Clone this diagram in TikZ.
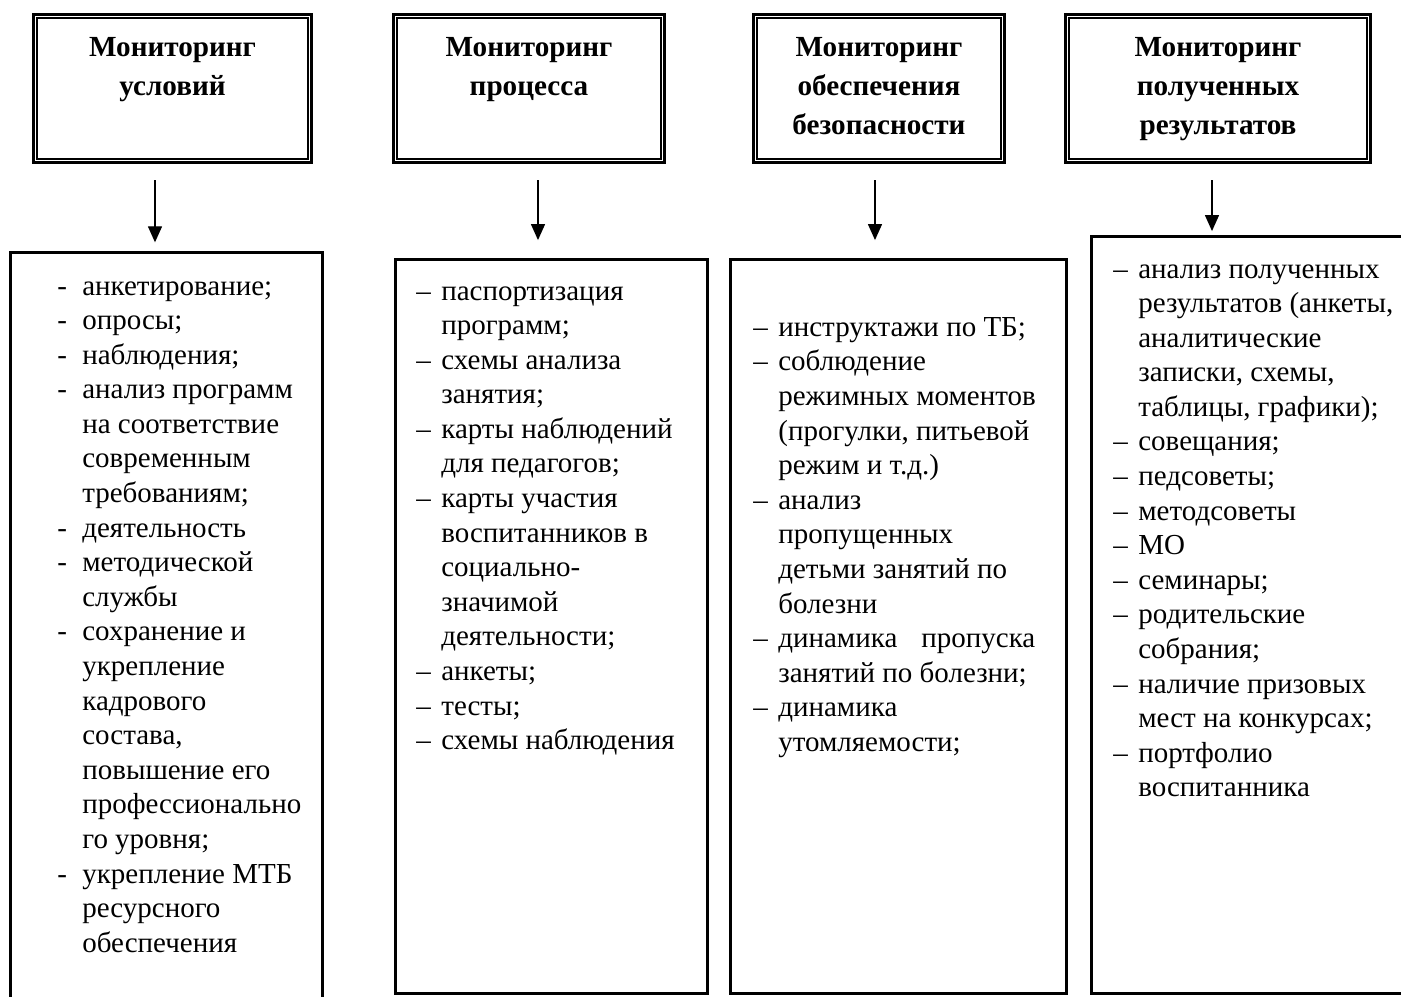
\documentclass[tikz,border=0pt]{standalone}
\usepackage{fontspec}
\setmainfont{Liberation Serif}
\usetikzlibrary{arrows.meta,positioning}
\newcommand{\punkt}[1]{\makebox[0.5cm][l]{#1}}
\newcommand{\einr}{\hspace*{0.5cm}}

\begin{document}
\begin{tikzpicture}[x=0.02cm,y=-0.02cm,
    kopf/.style={draw,line width=1.5pt,inner sep=0pt,outer sep=0pt,minimum height=2.968cm},
    kopftext/.style={inner sep=0pt,align=center,font=\bfseries\fontsize{16.6pt}{22.2pt}\selectfont},
    innen/.style={line width=0.9pt},
    liste/.style={draw,line width=1.7pt,inner sep=0pt,outer sep=0pt},
    eintrag/.style={anchor=north west,inner sep=0pt,align=left,
      font=\fontsize{16.5pt}{19.69pt}\selectfont,execute at begin node=\strut},
    pfeil/.style={-{Triangle[length=0.32cm,width=0.28cm]},line width=0.75pt}]
    		\useasboundingbox (0,0) rectangle (1401,997);
    		\clip (0,0) rectangle (1401,997);
    		% Kopfkaesten:
    		\node[kopf,minimum width=5.568cm] (t1) at (172.5,88.5) {};
    		\node[kopf,minimum width=5.428cm] (t2) at (529,88.5) {};
    		\node[kopf,minimum width=5.028cm] (t3) at (879,88.5) {};
    		\node[kopf,minimum width=6.108cm] (t4) at (1218,88.5) {};
    		\foreach \k in {t1,t2,t3,t4}
    		  \draw[innen] ([shift={(0.07cm,-0.07cm)}]\k.north west) rectangle ([shift={(-0.07cm,0.07cm)}]\k.south east);
    		\node[kopftext,below=0.45cm of t1.north] (k1) {Мониторинг\\условий};
    		\node[kopftext,below=0.45cm of t2.north] (k2) {Мониторинг\\процесса};
    		\node[kopftext,below=0.45cm of t3.north] (k3) {Мониторинг\\обеспечения\\безопасности};
    		\node[kopftext,below=0.45cm of t4.north] (k4) {Мониторинг\\полученных\\результатов};
    		
    		% Listenkaesten:
    		\node[liste,minimum width=6.24cm,minimum height=15.35cm] (l1) at (166.5,636) {};
    		\node[liste,minimum width=6.24cm,minimum height=14.68cm] (l2) at (551.5,626.5) {};
    		\node[liste,minimum width=6.72cm,minimum height=14.68cm] (l3) at (898.5,626.5) {};
    		\node[liste,minimum width=6.77cm,minimum height=15.14cm] (l4) at (1260.75,615) {};
    		
    		% Pfeile:
    		\coordinate (p1) at (155,180);
    		\coordinate (p2) at (538,180);
    		\coordinate (p3) at (875,180);
    		\coordinate (p4) at (1212,180);
    		\draw[pfeil,shorten <=0.35cm,shorten >=0.2cm] (t1.south -| p1) -- (l1.north -| p1);
    		\draw[pfeil,shorten <=0.35cm,shorten >=0.39cm] (t2.south -| p2) -- (l2.north -| p2);
    		\draw[pfeil,shorten <=0.35cm,shorten >=0.39cm] (t3.south -| p3) -- (l3.north -| p3);
    		\draw[pfeil,shorten <=0.35cm,shorten >=0.11cm] (t4.south -| p4) -- (l4.north -| p4);
    		
    		% Texte:
    		\node[eintrag] (e1) at (57,281) {\punkt{-}анкетирование;\\
    		  \punkt{-}опросы;\\
    		  \punkt{-}наблюдения;\\
    		  \punkt{-}анализ программ\\
    		  \einr на соответствие\\
    		  \einr современным\\
    		  \einr требованиям;\\
    		  \punkt{-}деятельность\\
    		  \punkt{-}методической\\
    		  \einr службы\\
    		  \punkt{-}сохранение и\\
    		  \einr укрепление\\
    		  \einr кадрового\\
    		  \einr состава,\\
    		  \einr повышение его\\
    		  \einr профессионально\\
    		  \einr го уровня;\\
    		  \punkt{-}укрепление МТБ\\
    		  \einr ресурсного\\
    		  \einr обеспечения};
    		\node[eintrag] (e2) at (416,286) {\punkt{–}паспортизация\\
    		  \einr программ;\\
    		  \punkt{–}схемы анализа\\
    		  \einr занятия;\\
    		  \punkt{–}карты наблюдений\\
    		  \einr для педагогов;\\
    		  \punkt{–}карты участия\\
    		  \einr воспитанников в\\
    		  \einr социально-\\
    		  \einr значимой\\
    		  \einr деятельности;\\
    		  \punkt{–}анкеты;\\
    		  \punkt{–}тесты;\\
    		  \punkt{–}схемы наблюдения};
    		\node[eintrag] (e3) at (753,317) {\punkt{–}инструктажи по ТБ;\\
    		  \punkt{–}соблюдение\\
    		  \einr режимных моментов\\
    		  \einr (прогулки, питьевой\\
    		  \einr режим и т.д.)\\
    		  \punkt{–}анализ\\
    		  \einr пропущенных\\
    		  \einr детьми занятий по\\
    		  \einr болезни\\
    		  \punkt{–}\makebox[5.14cm][s]{динамика\hfill пропуска}\\
    		  \einr занятий по болезни;\\
    		  \punkt{–}динамика\\
    		  \einr утомляемости;};
    		\node[eintrag] (e4) at (1113,264) {\punkt{–}анализ полученных\\
    		  \einr результатов (анкеты,\\
    		  \einr аналитические\\
    		  \einr записки, схемы,\\
    		  \einr таблицы, графики);\\
    		  \punkt{–}совещания;\\
    		  \punkt{–}педсоветы;\\
    		  \punkt{–}методсоветы\\
    		  \punkt{–}МО\\
    		  \punkt{–}семинары;\\
    		  \punkt{–}родительские\\
    		  \einr собрания;\\
    		  \punkt{–}наличие призовых\\
    		  \einr мест на конкурсах;\\
    		  \punkt{–}портфолио\\
    		  \einr воспитанника};
\end{tikzpicture}
\end{document}
